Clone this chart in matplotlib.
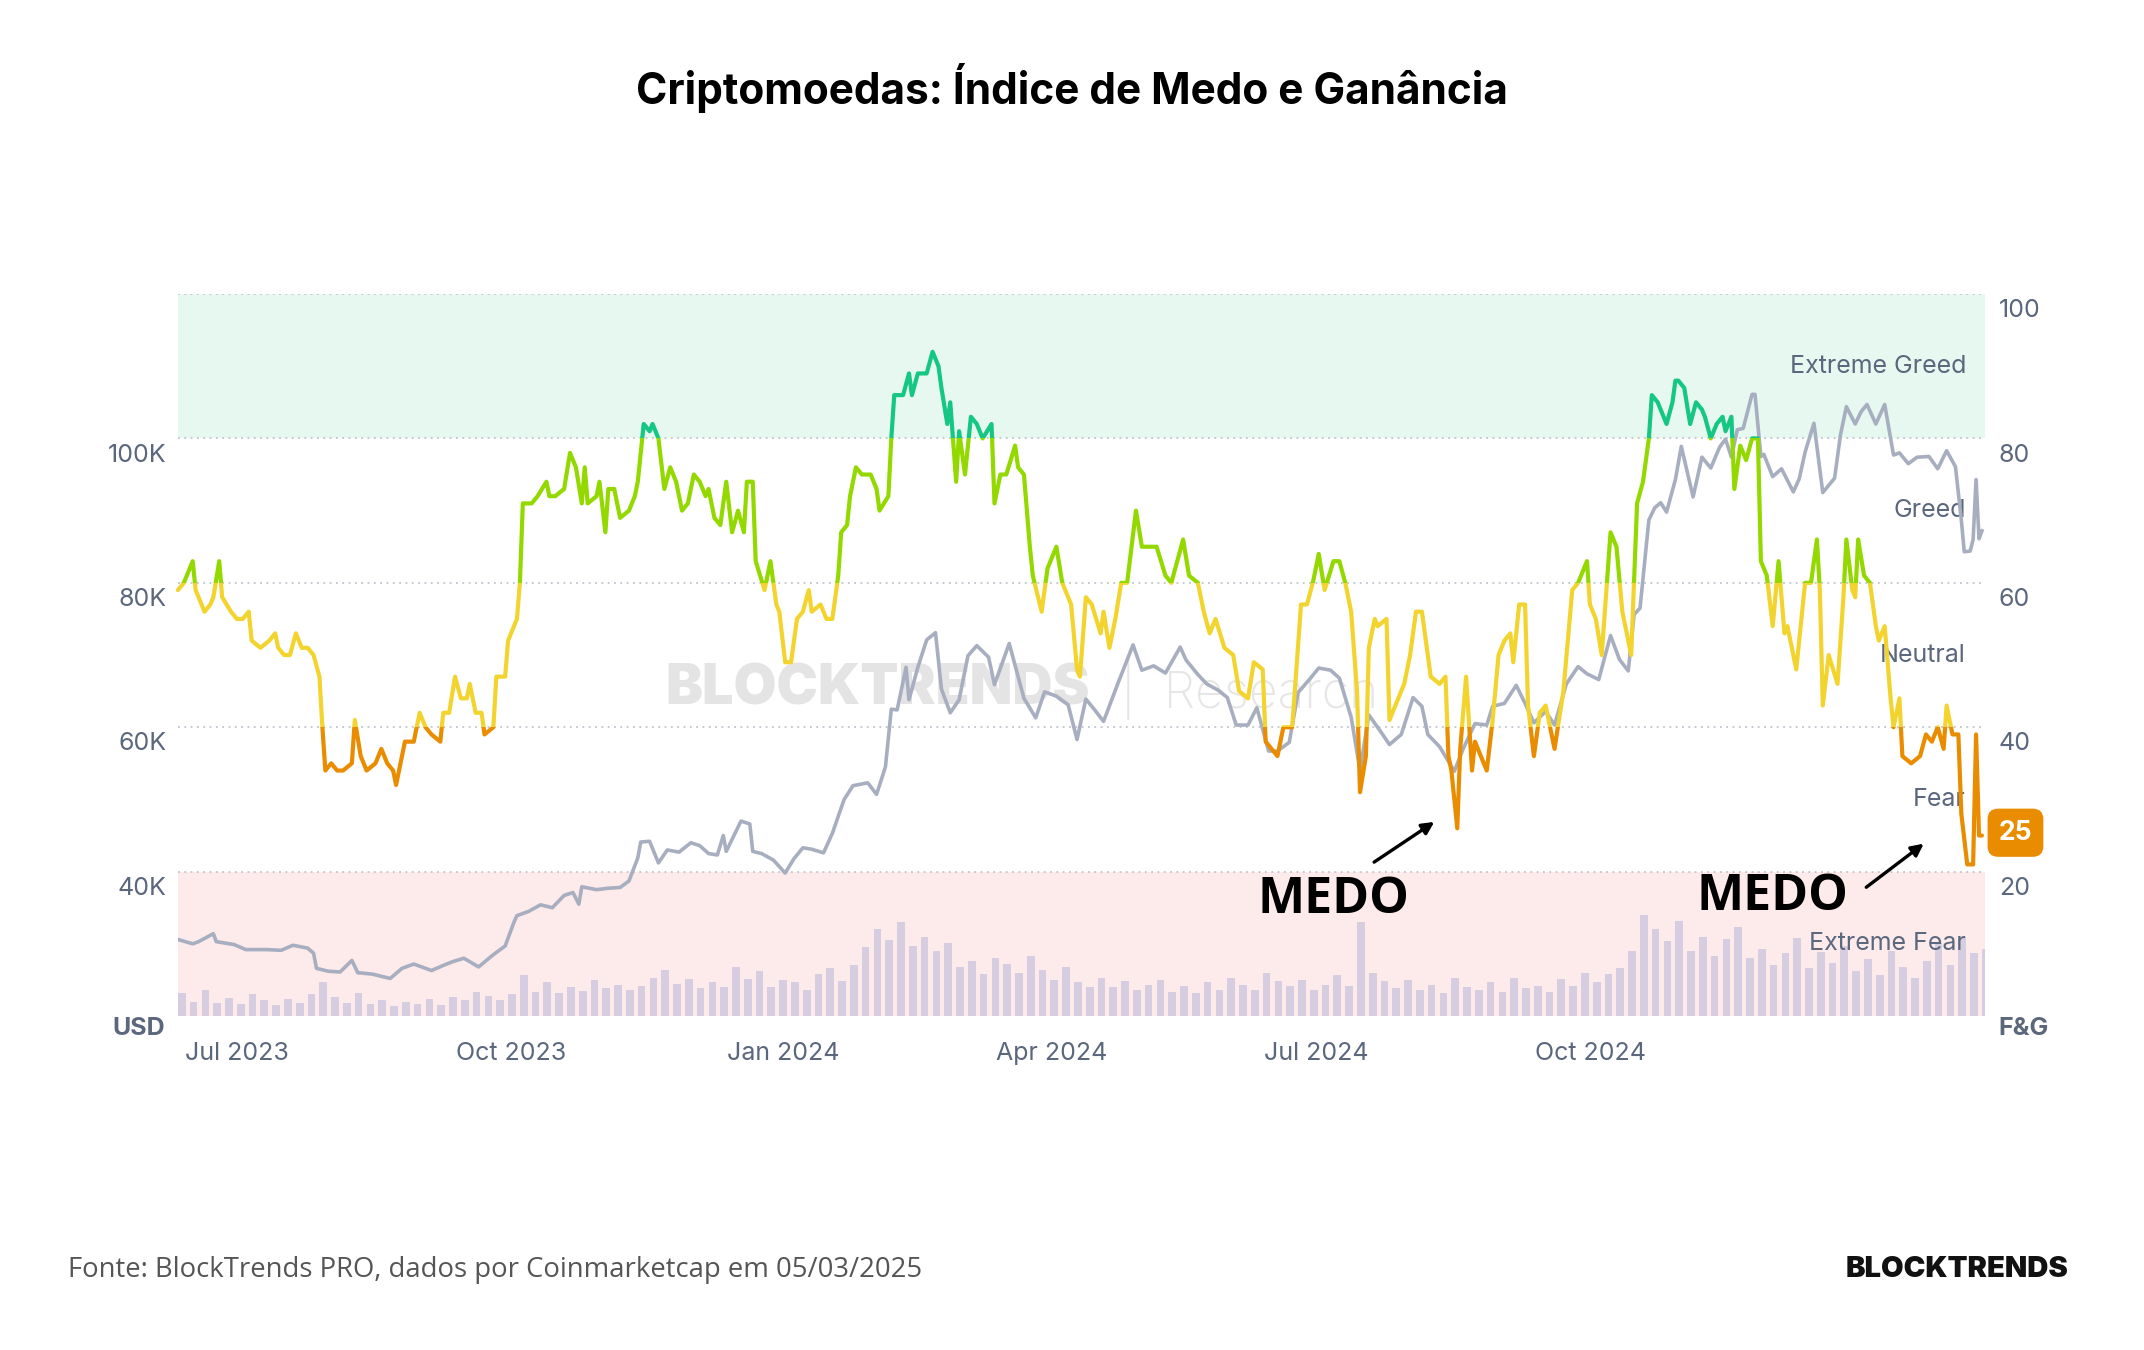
import matplotlib.pyplot as plt
import matplotlib.dates as mdates
from matplotlib.patches import Rectangle
import pandas as pd

plt.rcParams['font.family'] = ['Inter', 'DejaVu Sans']

START = pd.Timestamp('2023-07-01')
END = pd.Timestamp('2025-03-05')

# CMC Fear & Greed index (days counted from 2023-07-01)
fg_day = [0, 2, 5, 6, 9, 11, 12, 14, 15, 18, 20, 22, 24, 25, 28, 31, 33, 34, 36, 38,
          40, 42, 44, 46, 48, 49, 50, 52, 54, 56, 59, 60, 62, 64, 67, 69, 71, 73, 74, 77,
          80, 82, 84, 86, 89, 90, 92, 94, 96, 98, 99, 101,
          103, 104, 107, 108, 111, 112, 115, 116, 117, 119, 120, 122, 125, 126, 128, 131, 133, 135, 137, 138,
          139, 142, 143, 145, 146, 148, 150, 153, 155, 156, 158, 160, 161, 163, 165, 167, 169, 171, 173, 175,
          177, 179, 180, 182, 184, 186, 188, 190, 192, 193, 195, 196, 199, 201,
          203, 204, 206, 208, 210, 212, 214, 215, 218, 220, 222, 224, 225, 227, 228, 230, 232, 235, 237, 238,
          241, 242, 243, 246, 248, 249, 251, 254, 256, 258, 259, 261, 262, 264, 265, 267, 269, 271, 273, 276,
          277, 279, 281, 284, 285, 287, 289, 290, 293, 295, 298, 300, 303,
          305, 306, 308, 310, 313, 314, 316, 318, 320, 322, 325, 327, 330, 332, 335, 337, 341, 343, 346, 348,
          350, 352, 355, 358, 360, 363, 365, 368, 369, 371, 373, 375, 378, 381, 383, 385, 387, 389, 392, 394,
          396, 398, 400, 401, 403, 404,
          406, 407, 410, 411, 414, 416, 418, 420, 422, 425, 428, 430, 431, 432, 434, 435, 437, 439, 440, 442,
          444, 446, 448, 450, 452, 453, 455, 457, 458, 460, 462, 464, 467, 470, 473, 475, 478, 479, 481, 483,
          486, 488, 490, 493, 495, 497, 499, 500, 502, 505, 507,
          508, 509, 511, 513, 515, 517, 518, 520, 522, 524, 525, 527, 528, 530, 532, 534, 536, 537, 539, 541,
          543, 545, 546, 549, 552, 554, 556, 557, 558, 560, 563, 565, 566, 568, 569, 570, 572, 574, 576, 577,
          579, 581, 582, 584, 585, 588, 591, 593, 595, 597, 599, 600, 602, 604, 605, 607, 609, 610, 611, 612]
fg_value = [59, 60, 63, 59, 56, 57, 58, 63, 58, 56, 55, 55, 56, 52, 51, 52, 53, 51, 50, 50,
            53, 51, 51, 50, 47, 40, 34, 35, 34, 34, 35, 41, 36, 34, 35, 37, 35, 34, 32, 38,
            38, 42, 40, 39, 38, 42, 42, 47, 44, 44, 46, 42,
            42, 39, 40, 47, 47, 52, 55, 60, 71, 71, 71, 72, 74, 72, 72, 73, 78, 76, 71, 76,
            71, 72, 74, 67, 73, 73, 69, 70, 72, 74, 82, 81, 82, 80, 73, 76, 74, 70, 71, 75,
            74, 72, 73, 69, 68, 74, 67, 70, 67, 74, 74, 63, 59, 63,
            57, 56, 49, 49, 55, 56, 59, 56, 57, 55, 55, 61, 67, 68, 72, 76, 75, 75, 73, 70,
            72, 80, 86, 86, 89, 86, 89, 89, 92, 90, 87, 82, 85, 74, 81, 75, 83, 82, 80, 82,
            71, 75, 75, 79, 76, 75, 65, 61, 56, 62, 65, 60, 57,
            48, 47, 58, 57, 53, 56, 51, 55, 60, 60, 70, 65, 65, 65, 61, 60, 66, 61, 60, 56,
            53, 55, 51, 50, 45, 44, 49, 48, 38, 37, 36, 40, 40, 57, 57, 60, 64, 59, 63, 63,
            60, 56, 45, 31, 36, 51,
            55, 54, 55, 41, 44, 46, 50, 56, 56, 47, 46, 47, 36, 34, 26, 37, 47, 34, 38, 36,
            34, 41, 50, 52, 53, 49, 57, 57, 43, 36, 42, 43, 37, 45, 59, 60, 63, 57, 55, 50,
            67, 65, 56, 50, 71, 74, 80, 86, 85, 82, 85,
            88, 88, 87, 82, 85, 84, 83, 80, 82, 83, 81, 83, 73, 79, 77, 80, 80, 63, 61, 54,
            63, 53, 54, 48, 60, 60, 66, 59, 43, 50, 46, 58, 66, 59, 58, 66, 61, 60, 54, 52,
            54, 44, 40, 44, 36, 35, 36, 39, 38, 40, 37, 43, 39, 39, 28, 21, 21, 39, 25, 25]

# Bitcoin price (USD)
btc_date = ['2023-07-01', '2023-07-06', '2023-07-08', '2023-07-13', '2023-07-14', '2023-07-20', '2023-07-24',
            '2023-07-31', '2023-08-05', '2023-08-09', '2023-08-14', '2023-08-16', '2023-08-17', '2023-08-21',
            '2023-08-25', '2023-08-29', '2023-08-31', '2023-09-05', '2023-09-11', '2023-09-15', '2023-09-19',
            '2023-09-25', '2023-09-29', '2023-10-02', '2023-10-06', '2023-10-11', '2023-10-16', '2023-10-20',
            '2023-10-23', '2023-10-24', '2023-10-28', '2023-11-01', '2023-11-05', '2023-11-09', '2023-11-12',
            '2023-11-14', '2023-11-15', '2023-11-20', '2023-11-24', '2023-11-28', '2023-12-01', '2023-12-04',
            '2023-12-05', '2023-12-08', '2023-12-11', '2023-12-14', '2023-12-18', '2023-12-22', '2023-12-25',
            '2023-12-28', '2023-12-31', '2024-01-02', '2024-01-03', '2024-01-08', '2024-01-11', '2024-01-12',
            '2024-01-15', '2024-01-19', '2024-01-23', '2024-01-26', '2024-01-29', '2024-02-01', '2024-02-05',
            '2024-02-08', '2024-02-12', '2024-02-15', '2024-02-20', '2024-02-23', '2024-02-26', '2024-02-28',
            '2024-03-01', '2024-03-04', '2024-03-05', '2024-03-08', '2024-03-11', '2024-03-14', '2024-03-16',
            '2024-03-19', '2024-03-22', '2024-03-25', '2024-03-28', '2024-04-01', '2024-04-03', '2024-04-08',
            '2024-04-13', '2024-04-17', '2024-04-20', '2024-04-24', '2024-04-28', '2024-05-01', '2024-05-04',
            '2024-05-07', '2024-05-10', '2024-05-15', '2024-05-20', '2024-05-23', '2024-05-27', '2024-05-31',
            '2024-06-05', '2024-06-07', '2024-06-11', '2024-06-14', '2024-06-18', '2024-06-21', '2024-06-24',
            '2024-06-28', '2024-07-01', '2024-07-05', '2024-07-08', '2024-07-12', '2024-07-15', '2024-07-19',
            '2024-07-22', '2024-07-26', '2024-07-29', '2024-08-02', '2024-08-05', '2024-08-08', '2024-08-12',
            '2024-08-15', '2024-08-19', '2024-08-23', '2024-08-26', '2024-08-28', '2024-09-01', '2024-09-06',
            '2024-09-09', '2024-09-13', '2024-09-17', '2024-09-19', '2024-09-23', '2024-09-27', '2024-09-30',
            '2024-10-03', '2024-10-07', '2024-10-10', '2024-10-14', '2024-10-18', '2024-10-21', '2024-10-25',
            '2024-10-29', '2024-11-01', '2024-11-04', '2024-11-06', '2024-11-08', '2024-11-11', '2024-11-13',
            '2024-11-15', '2024-11-17', '2024-11-20', '2024-11-22', '2024-11-26', '2024-11-29', '2024-12-02',
            '2024-12-05', '2024-12-07', '2024-12-09', '2024-12-11', '2024-12-13', '2024-12-16', '2024-12-17',
            '2024-12-19', '2024-12-20', '2024-12-23', '2024-12-26', '2024-12-30', '2025-01-01', '2025-01-03',
            '2025-01-06', '2025-01-09', '2025-01-13', '2025-01-15', '2025-01-17', '2025-01-20', '2025-01-22',
            '2025-01-24', '2025-01-27', '2025-01-30', '2025-02-02', '2025-02-04', '2025-02-07', '2025-02-10',
            '2025-02-14', '2025-02-17', '2025-02-20', '2025-02-23', '2025-02-25', '2025-02-26', '2025-02-28',
            '2025-03-01', '2025-03-02', '2025-03-03', '2025-03-04']
btc_price = [30600, 30000, 30300, 31400, 30300, 29900, 29200, 29200, 29100, 29800, 29400, 28700, 26600, 26200,
             26100, 27700, 26000, 25800, 25200, 26600, 27200, 26300, 27000, 27500, 28000, 26800, 28500, 29700,
             33000, 33900, 34500, 35400, 35000, 36700, 37100, 35500, 37900, 37500, 37700, 37800, 38700, 41900,
             44100, 44200, 41200, 43000, 42700, 44000, 43600, 42500, 42300, 45000, 42800, 47000, 46600, 42800,
             42500, 41600, 39800, 41800, 43300, 43100, 42600, 45300, 50000, 51900, 52300, 50700, 54500, 62500,
             62400, 68300, 63800, 68300, 72100, 73100, 65300, 62000, 63800, 69900, 71300, 69700, 65900, 71600,
             64000, 61300, 64900, 64300, 63100, 58300, 63900, 62400, 60800, 66200, 71400, 67900, 68500, 67500,
             71100, 69300, 67300, 66000, 65100, 64100, 60300, 60300, 62700, 56700, 56700, 57900, 64800, 66700,
             68200, 67900, 66800, 61400, 54000, 61700, 59400, 57600, 59000, 64100, 62900, 59000, 57300, 53900,
             57000, 60500, 60300, 62900, 63300, 65800, 63300, 60600, 62200, 60300, 66000, 68400, 67400, 66600,
             72700, 69400, 67800, 75600, 76500, 88700, 90400, 91100, 89800, 94300, 98900, 91900, 97400, 95900,
             98800, 99900, 97400, 101200, 101400, 106100, 106100, 97500, 97800, 94700, 95800, 92600, 94400, 98100,
             102100, 92500, 94500, 100500, 104400, 102000, 103700, 104700, 102000, 104700, 97700, 98000, 96500,
             97400, 97500, 95800, 98300, 96100, 88700, 84300, 84400, 86000, 94300, 86100, 87200]

# Bitcoin trading volume, billions USD, one bar every 4 days from 2023-07-01
volume_bn = [19, 12, 22, 11, 15, 10, 18, 13, 9, 14,
             11, 18, 28, 16, 11, 19, 10, 13, 8, 12,
             10, 14, 9, 16, 13, 20, 17, 13, 18, 34,
             20, 28, 19, 24, 21, 30, 23, 26, 22, 25,
             32, 38, 27, 31, 23, 28, 24, 41, 31, 37,
             24, 30, 28, 22, 35, 40, 29, 42, 57, 72,
             63, 78, 58, 66, 54, 61, 41, 46, 35, 48,
             43, 36, 50, 38, 30, 41, 28, 24, 32, 24,
             29, 22, 26, 30, 20, 25, 19, 28, 22, 32,
             26, 22, 36, 29, 25, 30, 22, 26, 34, 25,
             78, 36, 29, 23, 30, 22, 26, 19, 32, 24,
             22, 28, 20, 32, 23, 25, 20, 31, 25, 36,
             28, 35, 40, 54, 84, 72, 62, 79, 54, 66,
             50, 64, 74, 48, 56, 42, 52, 65, 40, 53,
             44, 58, 37, 47, 34, 54, 41, 32, 46, 61,
             42, 66, 52, 56]

bands = [(0, 20, '#ea3943', 'Extreme Fear'), (20, 40, '#ea8c00', 'Fear'), (40, 60, '#f3d42f', 'Neutral'),
         (60, 80, '#93d900', 'Greed'), (80, 100, '#16c784', 'Extreme Greed')]
month_ticks = ['2023-07-01', '2023-10-01', '2024-01-01', '2024-04-01', '2024-07-01', '2024-10-01']
month_labels = ['Jul 2023', 'Oct 2023', 'Jan 2024', 'Apr 2024', 'Jul 2024', 'Oct 2024']
usd_ticks = [40000, 60000, 80000, 100000]

fg_x = [START + pd.Timedelta(days=d) for d in fg_day]
btc_x = pd.to_datetime(btc_date)
vol_x = pd.date_range(START, periods=len(volume_bn), freq='4D')

LABEL = '#5b677d'

fig = plt.figure(figsize=(21.44, 13.5), dpi=100)
ax = fig.add_axes([0.0830, 0.2474, 0.8428, 0.5348])
ax_vol = ax.twinx()
ax_usd = ax.twinx()
ax_fg = ax.twinx()

for a in (ax, ax_vol, ax_usd, ax_fg):
    a.set_xlim(START, END)
    for s in a.spines.values():
        s.set_visible(False)
    a.tick_params(left=False, right=False, bottom=False, labelleft=False, labelright=False, labelbottom=False)

ax.set_ylim(0, 100)
ax_fg.set_ylim(0, 100)
ax_usd.set_ylim(20000, 120000)
ax_vol.set_ylim(0, 600)

# zones and dotted grid
ax.axhspan(80, 100, color='#e7f8f1', lw=0)
ax.axhspan(0, 20, color='#fdeaeb', lw=0)
for v in [20, 40, 60, 80, 100]:
    ax.axhline(v, color='#bfc4cc', lw=1.3, ls=(0, (1, 2.5)))

# watermark
ax.text(0.387, 45.2, 'BLOCKTRENDS', transform=ax.get_yaxis_transform(), ha='center', va='center',
        fontsize=40, fontweight='black', color='#e4e4e4')
ax.text(0.522, 45.2, '|  Research', transform=ax.get_yaxis_transform(), ha='left', va='center',
        fontsize=36, fontweight='light', color='#e6e6e6')

# volume bars
ax_vol.bar(vol_x, volume_bn, width=2.6, align='edge', color='#d7cde1', lw=0)

# zone labels (above the bars, below the lines)
for lo, hi, col, name in bands:
    ax_vol.text(0.9895, (lo + hi) / 2 * 6, name, transform=ax_vol.get_yaxis_transform(), ha='right',
                va='center', fontsize=18, color=LABEL, zorder=5)

# bitcoin price
ax_usd.plot(btc_x, btc_price, color='#a7aec0', lw=2.6, solid_joinstyle='round')

# fear & greed line, coloured by zone
x0 = mdates.date2num(START - pd.Timedelta(days=30))
x1 = mdates.date2num(END + pd.Timedelta(days=30))
for lo, hi, col, name in bands:
    lo_c = -10 if lo == 0 else lo
    hi_c = 110 if hi == 100 else hi
    line, = ax_fg.plot(fg_x, fg_value, color=col, lw=3.0, solid_joinstyle='round', solid_capstyle='round')
    line.set_clip_path(Rectangle((x0, lo_c), x1 - x0, hi_c - lo_c, transform=ax_fg.transData))

# right axis labels (F&G)
for v in [20, 40, 60, 80, 100]:
    ax.annotate(str(v), xy=(1, v), xycoords=('axes fraction', 'data'), xytext=(10, -12),
                textcoords='offset points', ha='left', va='center', fontsize=18, color=LABEL)
# left axis labels (USD)
for v in usd_ticks:
    ax_usd.annotate(f'{v // 1000}K', xy=(0, v), xycoords=('axes fraction', 'data'), xytext=(-8, -12),
                    textcoords='offset points', ha='right', va='center', fontsize=18, color=LABEL)
ax.annotate('USD', xy=(0, 0), xycoords='axes fraction', xytext=(-28, -9), textcoords='offset points',
            ha='center', va='center', fontsize=18, fontweight='bold', color=LABEL)
ax.annotate('F&G', xy=(1, 0), xycoords='axes fraction', xytext=(28, -9), textcoords='offset points',
            ha='center', va='center', fontsize=18, fontweight='bold', color=LABEL)

# month labels
for d, lab in zip(month_ticks, month_labels):
    ax.annotate(lab, xy=(pd.Timestamp(d), 0), xycoords=('data', 'axes fraction'), xytext=(5, -27),
                textcoords='offset points', ha='left', va='center', fontsize=18, color=LABEL)

# current value badge
ax_fg.annotate(str(fg_value[-1]), xy=(1, fg_value[-1]), xycoords=('axes fraction', 'data'), xytext=(22, 2),
               textcoords='offset points', ha='center', va='center', fontsize=19, fontweight='bold',
               color='white', bbox=dict(boxstyle='round,pad=0.42,rounding_size=0.4', fc='#ea8c00', ec='none'))

# MEDO callouts
medo_style = dict(fontsize=36, fontweight='bold', family=['Open Sans', 'DejaVu Sans'], color='black',
                  ha='center', va='center')
ax_fg.text(START + pd.Timedelta(days=392), 16.0, 'MEDO', **medo_style)
ax_fg.annotate('', xy=(START + pd.Timedelta(days=427), 27.1), xytext=(START + pd.Timedelta(days=405), 21.1),
               arrowprops=dict(arrowstyle='-|>', color='black', lw=2.4, mutation_scale=18))
ax_fg.text(START + pd.Timedelta(days=541), 16.5, 'MEDO', **medo_style)
ax_fg.annotate('', xy=(START + pd.Timedelta(days=593), 24.1), xytext=(START + pd.Timedelta(days=572), 17.6),
               arrowprops=dict(arrowstyle='-|>', color='black', lw=2.4, mutation_scale=18))

fig.text(0.5, 0.935, 'Criptomoedas: Índice de Medo e Ganância', ha='center', va='center',
         fontsize=30.5, fontweight='bold', color='black')
fig.text(0.0317, 0.0593, 'Fonte: BlockTrends PRO, dados por Coinmarketcap em 05/03/2025', ha='left',
         va='center', fontsize=19.8, color='#555555', family=['Open Sans', 'DejaVu Sans'])
fig.text(0.965, 0.0593, 'BLOCKTRENDS', ha='right', va='center', fontsize=21, fontweight='black',
         color='#111111')

fig.savefig('out.png', dpi=100, facecolor='white')
